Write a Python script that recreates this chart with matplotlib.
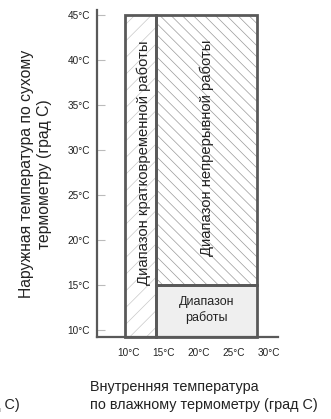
import matplotlib
matplotlib.use("Agg")
import matplotlib.pyplot as plt
from matplotlib.patches import Rectangle

# ---- data ----
x_ticks = [10, 15, 20, 25, 30]
x_tick_labels = ["10°C", "15°C", "20°C", "25°C", "30°C"]
y_ticks = [10, 15, 20, 25, 30, 35, 40, 45]
y_tick_labels = ["10°C", "15°C", "20°C", "25°C", "30°C", "35°C", "40°C", "45°C"]

# regions: (x_min, x_max, y_min, y_max)
short_term = [9.5, 13.9, 9.2, 45]
continuous = [13.9, 28.3, 15, 45]
operation = [13.9, 28.3, 9.2, 15]

label_short = "Диапазон кратковременной работы"
label_cont = "Диапазон непрерывной работы"
label_oper = "Диапазон\nработы"
x_label = "Внутренняя температура\nпо влажному термометру (град C)"
y_label = "Наружная температура по сухому\nтермометру (град C)"

W, H = 331, 419
fig = plt.figure(figsize=(W / 100, H / 100), dpi=100)
ax = fig.add_axes([97 / W, 1 - 337.3 / H, (278 - 97) / W, (337.3 - 10) / H])
ax.set_xlim(5.43, 31.29)
ax.set_ylim(9.19, 45.56)

dark = "#595959"
regular = ["Liberation Sans", "DejaVu Sans"]

for s in ["top", "right"]:
    ax.spines[s].set_visible(False)
for s in ["left", "bottom"]:
    ax.spines[s].set_color(dark)
    ax.spines[s].set_linewidth(1.6)

ax.set_xticks(x_ticks)
ax.set_xticklabels(x_tick_labels, family=regular, fontsize=7.2, color="#222222")
ax.tick_params(axis="x", length=0, pad=8)
ax.set_yticks(y_ticks)
ax.set_yticklabels(y_tick_labels, family=regular, fontsize=7.2, color="#222222")
ax.tick_params(axis="y", direction="in", length=6, width=0.8, color="#bbbbbb", pad=5)

plt.rcParams["hatch.linewidth"] = 0.5

def region(r, fc, hatch, hcolor):
    x0, x1, y0, y1 = r
    if hatch:
        ax.add_patch(Rectangle((x0, y0), x1 - x0, y1 - y0, facecolor=fc,
                               edgecolor=hcolor, hatch=hatch, linewidth=0, zorder=1))
    else:
        ax.add_patch(Rectangle((x0, y0), x1 - x0, y1 - y0, facecolor=fc,
                               edgecolor="none", zorder=1))
    ax.add_patch(Rectangle((x0, y0), x1 - x0, y1 - y0, facecolor="none",
                           edgecolor=dark, linewidth=2.0, zorder=3, clip_on=False))

region(short_term, "white", "//", "#c8c8c8")
region(continuous, "white", "\\\\\\", "#9a9a9a")
region(operation, "#efefef", None, None)

ax.text(12.1, 28.6, label_short, rotation=90, ha="center", va="center",
        family=regular, fontsize=10.7, color="#222222", zorder=4)
ax.text(21.1, 30.3, label_cont, rotation=90, ha="center", va="center",
        family=regular, fontsize=10.6, color="#222222", zorder=4)
ax.text(21.1, 12.2, label_oper, ha="center", va="center",
        family=regular, fontsize=9, color="#222222", linespacing=1.3, zorder=4)

fig.text(36 / W, 1 - 174 / H, y_label, rotation=90, ha="center", va="center",
         family=regular, fontsize=11.3, color="#222222", linespacing=1.25)
fig.text(90 / W, 1 - 396 / H, x_label, ha="left", va="center",
         family=regular, fontsize=10.4, color="#222222", linespacing=1.3)
fig.text(20 / W, 1 - 405 / H, "(град С)", ha="right", va="center",
         family=regular, fontsize=10.4, color="#222222")

fig.savefig("out.png", dpi=100)
